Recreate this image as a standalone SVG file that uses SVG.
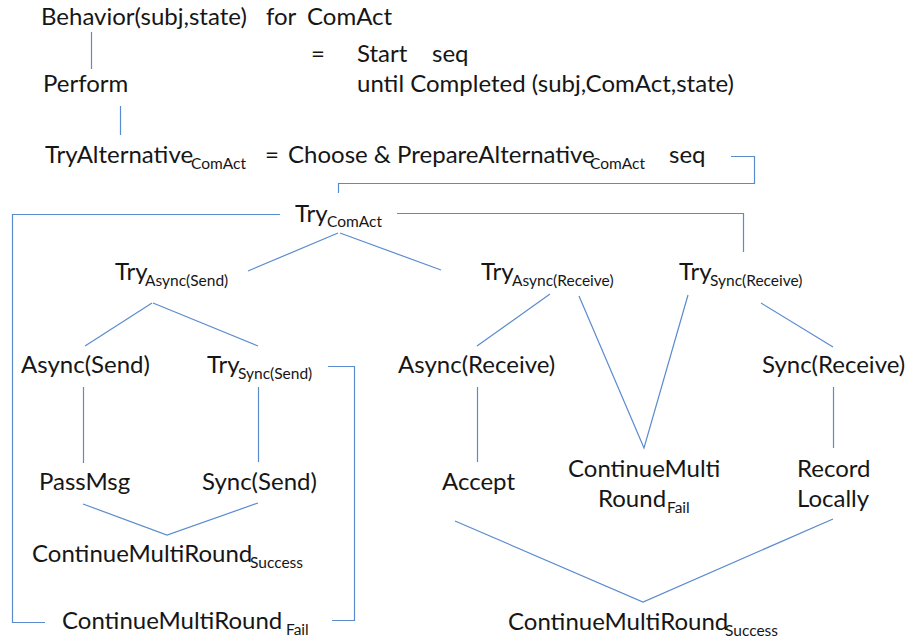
<svg xmlns="http://www.w3.org/2000/svg" width="906" height="641" viewBox="0 0 906 641">
  <style>
    text { font-family: Lato, "Open Sans", "Liberation Sans", sans-serif; font-size: 24px; fill: #161616; }
    .sub { font-size: 15.5px; }
    .edge { fill: none; stroke: #5b8bcf; stroke-width: 1.2; }
  </style>
  <rect width="906" height="641" fill="#ffffff"/>

  <!-- connectors -->
  <g id="connectors">
    <path class="edge" d="M91.5,32 V69"/>
    <path class="edge" d="M120.5,106 V135"/>
    <path class="edge" d="M731,156.5 H754.5 V183.5 H338.5 V193"/>
    <path class="edge" d="M280,214.5 H12.5 V622.5 H45"/>
    <path class="edge" d="M397,213.5 H743.5 V252"/>
    <path class="edge" d="M338,233 L248,271"/>
    <path class="edge" d="M340,233 L441,270"/>
    <path class="edge" d="M152,303 L85,346"/>
    <path class="edge" d="M153,303 L258,346"/>
    <path class="edge" d="M328,366.5 H354.5 V620.5 H332"/>
    <path class="edge" d="M83.5,387 V463"/>
    <path class="edge" d="M258.5,387 V462"/>
    <path class="edge" d="M83,504 L167,535 L258,503"/>
    <path class="edge" d="M550,294 L477,346"/>
    <path class="edge" d="M579,296 L644,448 L688,295"/>
    <path class="edge" d="M761,303 L833,347"/>
    <path class="edge" d="M477.5,387 V462"/>
    <path class="edge" d="M833.5,387 V448"/>
    <path class="edge" d="M455,521 L643,602 L833,519"/>
  </g>

  <!-- header definitions -->
  <g id="behavior"><text x="41" y="25">Behavior(subj,state)<tspan x="266">for</tspan><tspan x="307">ComAct</tspan></text></g>
  <g id="behavior-def">
    <text x="311" y="62">=</text>
    <text x="357" y="62">Start<tspan x="432">seq</tspan></text>
    <text x="357" y="92">until Completed (subj,ComAct,state)</text>
  </g>
  <g id="perform"><text x="43" y="92">Perform</text></g>
  <g id="try-alternative">
    <text x="45" y="163">TryAlternative<tspan class="sub" x="191" y="169">ComAct</tspan></text>
    <text x="265" y="163">=</text>
    <text x="288" y="163">Choose &amp; PrepareAlternative<tspan class="sub" x="590" y="169">ComAct</tspan></text>
    <text x="669" y="163">seq</text>
  </g>

  <!-- alternative tree -->
  <g id="try-comact"><text x="295" y="222">Try<tspan class="sub" x="327" y="227">ComAct</tspan></text></g>
  <g id="try-async-send"><text x="115" y="280">Try<tspan class="sub" x="145" y="286">Async(Send)</tspan></text></g>
  <g id="try-async-receive"><text x="481" y="280">Try<tspan class="sub" x="512" y="286">Async(Receive)</tspan></text></g>
  <g id="try-sync-receive"><text x="679" y="280">Try<tspan class="sub" x="710" y="286">Sync(Receive)</tspan></text></g>
  <g id="async-send"><text x="21" y="373">Async(Send)</text></g>
  <g id="try-sync-send"><text x="207" y="373">Try<tspan class="sub" x="238" y="379">Sync(Send)</tspan></text></g>
  <g id="async-receive"><text x="398" y="373">Async(Receive)</text></g>
  <g id="sync-receive"><text x="762" y="373">Sync(Receive)</text></g>
  <g id="passmsg"><text x="39" y="490">PassMsg</text></g>
  <g id="sync-send"><text x="202" y="490">Sync(Send)</text></g>
  <g id="accept"><text x="442" y="490">Accept</text></g>
  <g id="continue-fail-receive">
    <text x="568" y="477">ContinueMulti</text>
    <text x="598" y="507">Round<tspan class="sub" x="667" y="513">Fail</tspan></text>
  </g>
  <g id="record-locally">
    <text x="797" y="477">Record</text>
    <text x="797" y="507">Locally</text>
  </g>
  <g id="continue-success-send"><text x="32" y="562">ContinueMultiRound<tspan class="sub" x="250" y="568">Success</tspan></text></g>
  <g id="continue-fail-send"><text x="62" y="629">ContinueMultiRound<tspan class="sub" x="286" y="635">Fail</tspan></text></g>
  <g id="continue-success-receive"><text x="508" y="630">ContinueMultiRound<tspan class="sub" x="725" y="636">Success</tspan></text></g>
</svg>
